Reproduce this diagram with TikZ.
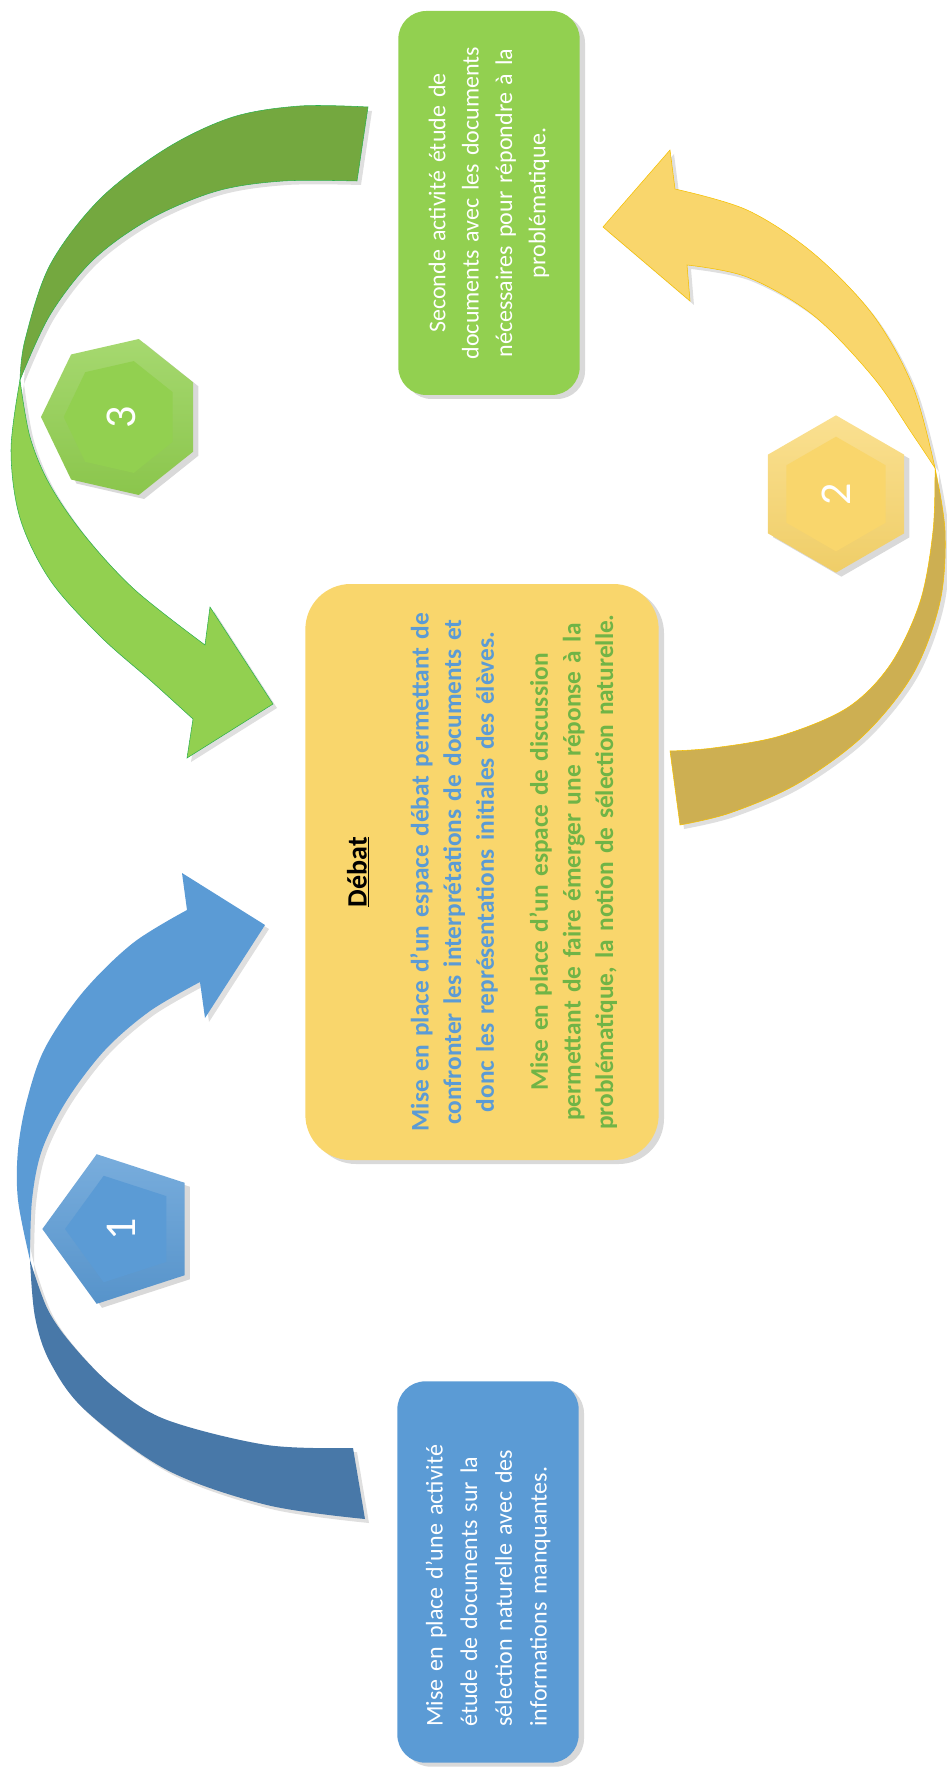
\documentclass[tikz,border=0pt]{standalone}
\usepackage{fontspec}
\setmainfont{Carlito}
\usepackage{tikz}
\usetikzlibrary{shapes.geometric,shadows}

\definecolor{bluebox}{HTML}{5B9BD5}
\definecolor{bluedark}{HTML}{4878A8}
\definecolor{greenbox}{HTML}{92D050}
\definecolor{greendark}{HTML}{74A83F}
\definecolor{greenline}{HTML}{2EB04C}
\definecolor{yellowbox}{HTML}{F9D66C}
\definecolor{yellowdark}{HTML}{CDAF52}
\definecolor{yellowline}{HTML}{F5C000}
\definecolor{textblue}{HTML}{5B9BD5}
\definecolor{textgreen}{HTML}{70B446}

\begin{document}
\begin{tikzpicture}[x=0.75pt,y=-0.75pt,
    boxnode/.style={rectangle, rotate=90, inner sep=0pt,
        drop shadow={shadow xshift=4pt, shadow yshift=-3pt, opacity=0.3}},
    polynode/.style={regular polygon, rotate=90, inner sep=0pt,
        drop shadow={shadow xshift=4pt, shadow yshift=-3pt, opacity=0.3}},
    numnode/.style={regular polygon, rotate=90, inner sep=0pt, text=white,
        font=\fontsize{33}{33}\selectfont},
    arrowshape/.style={drop shadow={shadow xshift=3pt, shadow yshift=-3pt, opacity=0.25}}]

    \useasboundingbox (0,0) rectangle (946,1772);

    \fill[bluebox, arrowshape] (30,1260) -- plot[smooth, tension=0.55] coordinates {(30,1260) (18,1200) (18,1150) (27,1100) (45,1048) (83,992) (133,943) (187,910)}
        -- (182,873) -- (265,925) -- (205,1018) -- (200,982)
        -- plot[smooth, tension=0.55] coordinates {(200,982) (150,1011) (105,1050) (67,1100) (42,1150) (32,1200) (30,1260)} -- cycle;
    \fill[bluedark, arrowshape] (30,1260) -- plot[smooth, tension=0.55] coordinates {(30,1260) (35,1317) (50,1362) (85,1410) (167,1470) (267,1505) (365,1519)}
        -- (353,1448)
        -- plot[smooth, tension=0.55] coordinates {(353,1448) (267,1445) (167,1420) (115,1388) (75,1348) (48,1310) (30,1260)} -- cycle;

    \filldraw[greendark, draw=greenline, arrowshape] (20,380) -- plot[smooth, tension=0.55] coordinates {(20,380) (25,340) (50,265) (100,199) (167,148) (233,117) (300,106) (368,107)}
        -- (357,181)
        -- plot[smooth, tension=0.55] coordinates {(357,181) (283,181) (217,191) (150,219) (93,260) (50,315) (20,380)} -- cycle;
    \filldraw[greenbox, draw=greenline, arrowshape] (20,380) -- plot[smooth, tension=0.55] coordinates {(20,380) (11,450) (20,518) (50,580) (100,636) (150,680) (193,719)}
        -- (187,758) -- (273,704) -- (210,607) -- (205,645)
        -- plot[smooth, tension=0.55] coordinates {(205,645) (135,590) (85,536) (50,485) (30,437) (20,380)} -- cycle;

    \filldraw[yellowbox, draw=yellowline, arrowshape] (935,468) -- plot[smooth, tension=0.55] coordinates {(935,468) (913,387) (873,315) (813,253) (747,210) (675,189)}
        -- (670,150) -- (603,227) -- (690,301) -- (687,265)
        -- plot[smooth, tension=0.55] coordinates {(687,265) (747,277) (813,315) (873,377) (913,435) (935,468)} -- cycle;
    \filldraw[yellowdark, draw=yellowline, arrowshape] (935,468) -- plot[smooth, tension=0.55] coordinates {(935,468) (945,531) (940,602) (913,674) (863,736) (797,784) (730,813) (680,825)}
        -- (670,751)
        -- plot[smooth, tension=0.55] coordinates {(670,751) (713,748) (780,736) (847,708) (890,665) (920,602) (933,531) (935,468)} -- cycle;

    \node[boxnode, fill=yellowbox, rounded corners=34pt, minimum width=432pt, minimum height=265pt,
        text width=420pt, align=center, font=\fontsize{19}{24.5}\selectfont] (debat) at (482,872) {%
        {\fontsize{21}{24.5}\selectfont\bfseries\underline{Débat}}\\[22pt]
        \bfseries\color{textblue}Mise en place d’un espace débat permettant de\\
        confronter les interprétations de documents et\\
        donc les représentations initiales des élèves.\\[16pt]
        \color{textgreen}Mise en place d’un espace de discussion\\
        permettant de faire émerger une réponse à la\\
        problématique, la notion de sélection naturelle.};

    \node[boxnode, fill=bluebox, rounded corners=21pt, minimum width=286pt, minimum height=136pt,
        text width=232pt, align=left, text=white, font=\fontsize{18}{26}\selectfont] (act1) at (488,1572) {%
        Mise en place d’une activité\\
        étude de documents sur la\\
        sélection naturelle avec des\\
        informations manquantes.};

    \node[boxnode, fill=greenbox, rounded corners=21pt, minimum width=288pt, minimum height=136pt,
        text width=270pt, align=center, text=white, font=\fontsize{18}{25}\selectfont] (act2) at (489,203) {%
        Seconde activité étude de\\
        documents avec les documents\\
        nécessaires pour répondre à la\\
        problématique.};

    \node[polynode, regular polygon sides=5, minimum size=118pt, top color=bluebox!82!white, bottom color=bluebox!95!black] (n1) at (121,1229) {};
    \node[numnode, regular polygon sides=5, minimum size=84pt, fill=bluebox] (n1in) at (n1) {1};

    \node[polynode, regular polygon sides=6, minimum size=118pt, top color=yellowbox!75!white, bottom color=yellowbox!96!black] (n2) at (836,494) {};
    \node[numnode, regular polygon sides=6, minimum size=86pt, fill=yellowbox] (n2in) at (n2) {2};

    \node[polynode, regular polygon sides=7, minimum size=120pt, top color=greenbox!82!white, bottom color=greenbox!95!black] (n3) at (121,417) {};
    \node[numnode, regular polygon sides=7, minimum size=86pt, fill=greenbox] (n3in) at (n3) {3};

\end{tikzpicture}
\end{document}
